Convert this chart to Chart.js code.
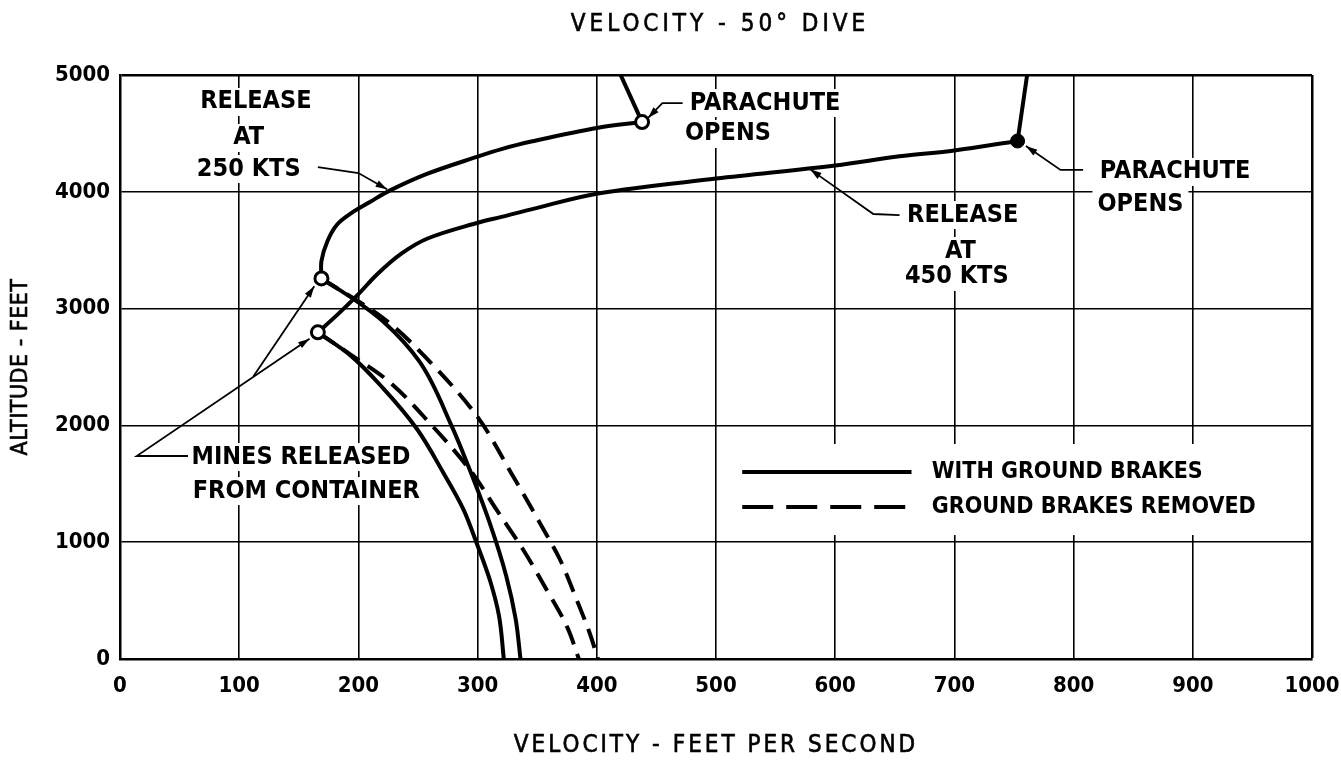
<!DOCTYPE html>
<html>
<head>
<meta charset="utf-8">
<script src="https://cdn.jsdelivr.net/npm/chart.js@4.4.1/dist/chart.umd.min.js"></script>
<style>
  html, body { margin: 0; padding: 0; background: #fff; }
  canvas { display: block; }
</style>
</head>
<body>
<canvas id="grafico" width="1341" height="768"></canvas>
<script>
// Datos (velocidad ft/s, altitud ft)
const ticksX = [0, 100, 200, 300, 400, 500, 600, 700, 800, 900, 1000];
const ticksY = [0, 1000, 2000, 3000, 4000, 5000];

// contenedor lanzado a 250 kts
const caida250 = [[420, 5000], [438, 4597]];
const frenado250 = [[438, 4597], [401, 4549], [345, 4430], [320, 4365], [300, 4301], [258, 4155], [227, 4014], [210, 3915], [194, 3817], [182, 3718], [174, 3577], [169, 3408], [169, 3258]];
// contenedor lanzado a 450 kts
const caida450 = [[761, 5000], [753, 4435]];
const frenado450 = [[753, 4435], [700, 4354], [654, 4304], [600, 4225], [500, 4113], [401, 3986], [345, 3850], [320, 3785], [300, 3735], [258, 3600], [236, 3470], [216, 3296], [199, 3113], [182, 2944], [166, 2797]];

// minas (desde 250 kts)
const minasA_con = [[169, 3258], [199, 3060], [221, 2888], [251, 2550], [278, 2000], [292, 1656], [310, 1169], [324, 711], [332, 338], [336, 0]];
const minasA_sin = [[169, 3258], [221, 2917], [260, 2544], [299, 2086], [330, 1560], [352, 1169], [369, 854], [383, 510], [394, 223], [401, 0]];
// minas (desde 450 kts)
const minasB_con = [[166, 2797], [193, 2602], [221, 2315], [249, 1971], [271, 1599], [288, 1284], [299, 997], [311, 653], [318, 367], [322, 0]];
const minasB_sin = [[166, 2797], [192, 2617], [224, 2389], [260, 2018], [295, 1600], [316, 1276], [338, 940], [358, 591], [375, 277], [385, 0]];

const puntosAbiertos = [[438, 4597], [169, 3258], [166, 2797]];
const puntoLleno = [[753, 4435]];

const leyenda = ["WITH GROUND BRAKES", "GROUND BRAKES REMOVED"];

const aPuntos = (arr) => arr.map(p => ({ x: p[0], y: p[1] }));

// textos de anotacion, en unidades de los ejes
const notas = [
  { t: "RELEASE", x: 114, y: 4769, a: "center" },
  { t: "AT", x: 108, y: 4461, a: "center" },
  { t: "250 KTS", x: 108, y: 4195, a: "center" },
  { t: "PARACHUTE", x: 478, y: 4760, a: "left" },
  { t: "OPENS", x: 474, y: 4495, a: "left" },
  { t: "RELEASE", x: 707, y: 3801, a: "center" },
  { t: "AT", x: 705, y: 3493, a: "center" },
  { t: "450 KTS", x: 702, y: 3271, a: "center" },
  { t: "PARACHUTE", x: 822, y: 4170, a: "left" },
  { t: "OPENS", x: 820, y: 3887, a: "left" },
  { t: "MINES RELEASED", x: 60, y: 1729, a: "left" },
  { t: "FROM CONTAINER", x: 61, y: 1438, a: "left" }
];
// lineas guia con flecha al final
const guias = [
  [[166, 4212], [200, 4161], [224, 4022]],
  [[472, 4760], [455, 4760], [443, 4632]],
  [[654, 3801], [632, 3810], [579, 4192]],
  [[808, 4187], [789, 4187], [760, 4392]],
  [[57, 1738], [14, 1738], [159, 2742]],
  [[112, 2420], [163, 3192]]
];

const FUENTE = '"DejaVu Sans Condensed", "DejaVu Sans", sans-serif';

const dibujos = {
  id: "dibujos",
  beforeDatasetsDraw(chart) {
    const c = chart.ctx;
    const sx = chart.scales.x, sy = chart.scales.y;
    c.save();
    c.font = "bold 25px " + FUENTE;
    c.textBaseline = "middle";
    notas.forEach(n => {
      const px = sx.getPixelForValue(n.x), py = sy.getPixelForValue(n.y);
      const w = c.measureText(n.t).width;
      const x0 = n.a === "center" ? px - w / 2 : px;
      c.fillStyle = "#fff";
      c.fillRect(x0 - 5, py - 14, w + 10, 28);
      c.fillStyle = "#000";
      c.textAlign = n.a;
      c.fillText(n.t, px, py);
    });

    // leyenda
    c.font = "bold 23px " + FUENTE;
    const lx0 = sx.getPixelForValue(522), lx1 = sx.getPixelForValue(664), tx = sx.getPixelForValue(681);
    const ly = [sy.getPixelForValue(1601), sy.getPixelForValue(1301)];
    const wMax = Math.max(...leyenda.map(t => c.measureText(t).width));
    c.fillStyle = "#fff";
    c.fillRect(lx0 - 14, ly[0] - 28, tx + wMax - lx0 + 30, ly[1] - ly[0] + 56);
    c.strokeStyle = "#000";
    c.lineWidth = 4;
    leyenda.forEach((t, i) => {
      c.setLineDash(i === 0 ? [] : [31, 13]);
      c.beginPath();
      c.moveTo(lx0, ly[i]);
      c.lineTo(lx1, ly[i]);
      c.stroke();
      c.fillStyle = "#000";
      c.textAlign = "left";
      c.fillText(t, tx, ly[i]);
    });
    c.restore();
  },
  afterDatasetsDraw(chart) {
    const c = chart.ctx;
    const sx = chart.scales.x, sy = chart.scales.y;
    c.save();
    c.strokeStyle = "#000";
    c.fillStyle = "#000";
    c.lineWidth = 1.8;
    guias.forEach(g => {
      const pts = g.map(p => [sx.getPixelForValue(p[0]), sy.getPixelForValue(p[1])]);
      c.beginPath();
      pts.forEach((p, i) => i ? c.lineTo(p[0], p[1]) : c.moveTo(p[0], p[1]));
      c.stroke();
      const a = pts[pts.length - 2], b = pts[pts.length - 1];
      const ang = Math.atan2(b[1] - a[1], b[0] - a[0]);
      c.beginPath();
      c.moveTo(b[0], b[1]);
      c.lineTo(b[0] - 12 * Math.cos(ang - 0.3), b[1] - 12 * Math.sin(ang - 0.3));
      c.lineTo(b[0] - 12 * Math.cos(ang + 0.3), b[1] - 12 * Math.sin(ang + 0.3));
      c.closePath();
      c.fill();
    });
    c.restore();
  },
  afterDraw(chart) {
    const c = chart.ctx;
    const area = chart.chartArea;
    const cx = (area.left + area.right) / 2;
    c.save();
    c.fillStyle = "#000";
    c.strokeStyle = "#000";
    c.lineWidth = 0.6;
    c.textAlign = "center";
    c.textBaseline = "middle";
    c.font = "24px " + FUENTE;
    c.letterSpacing = "4px";
    c.fillText("VELOCITY - 50\u00B0 DIVE", cx + 4, 25);
    c.strokeText("VELOCITY - 50\u00B0 DIVE", cx + 4, 25);
    c.letterSpacing = "3px";
    c.fillText("VELOCITY - FEET PER SECOND", cx, 746);
    c.strokeText("VELOCITY - FEET PER SECOND", cx, 746);
    c.font = "23px " + FUENTE;
    c.letterSpacing = "0.5px";
    c.translate(21, (area.top + area.bottom) / 2);
    c.rotate(-Math.PI / 2);
    c.fillText("ALTITUDE - FEET", 0, 0);
    c.strokeText("ALTITUDE - FEET", 0, 0);
    c.restore();
  }
};

const linea = (datos, discontinua, tension) => ({
  data: aPuntos(datos),
  borderColor: "#000",
  borderWidth: 4,
  borderDash: discontinua ? [20, 10] : [],
  pointRadius: 0,
  showLine: true,
  tension: tension,
  fill: false
});
// curvas de descenso: la altitud hace de eje indice para suavizar
const descenso = (datos, discontinua) =>
  Object.assign(linea(datos, discontinua, 0.4), { indexAxis: "y", cubicInterpolationMode: "monotone" });

const canvas1 = document.getElementById("grafico").getContext("2d");
let chart1 = new Chart(canvas1, {
  type: "line",
  data: {
    datasets: [
      {
        data: aPuntos(puntosAbiertos),
        pointRadius: 6.5,
        pointBorderWidth: 3,
        pointBorderColor: "#000",
        pointBackgroundColor: "#fff",
        showLine: false
      },
      {
        data: aPuntos(puntoLleno),
        pointRadius: 7,
        pointBorderWidth: 1,
        pointBorderColor: "#000",
        pointBackgroundColor: "#000",
        showLine: false
      },
      linea(caida250, false, 0),
      linea(frenado250, false, 0.35),
      linea(caida450, false, 0),
      linea(frenado450, false, 0.35),
      descenso(minasA_con, false),
      descenso(minasA_sin, true),
      descenso(minasB_con, false),
      descenso(minasB_sin, true)
    ]
  },
  options: {
    responsive: false,
    animation: false,
    layout: { padding: { top: 75, right: 29, bottom: 0, left: 0 } },
    plugins: {
      legend: { display: false },
      tooltip: { enabled: false },
      title: { display: false }
    },
    scales: {
      x: {
        type: "linear",
        min: 0,
        max: 1000,
        afterBuildTicks: (s) => { s.ticks = ticksX.map(v => ({ value: v })); },
        afterFit: (s) => { s.height = 109; s.paddingLeft = 0; s.paddingRight = 0; },
        grid: {
          color: "#000",
          lineWidth: (ctx) => (ctx.tick && ctx.tick.value === 1000 ? 2.5 : 1.6),
          drawTicks: false
        },
        border: { color: "#000", width: 2.5 },
        ticks: {
          color: "#000",
          padding: 14,
          maxRotation: 0,
          callback: (v) => String(v),
          font: { family: FUENTE, size: 22, weight: "bold" }
        }
      },
      y: {
        type: "linear",
        min: 0,
        max: 5000,
        afterBuildTicks: (s) => { s.ticks = ticksY.map(v => ({ value: v })); },
        afterFit: (s) => { s.width = 120; s.paddingTop = 0; s.paddingBottom = 0; },
        grid: {
          color: "#000",
          lineWidth: (ctx) => (ctx.tick && ctx.tick.value === 5000 ? 2.5 : 1.6),
          drawTicks: false
        },
        border: { color: "#000", width: 2.5 },
        ticks: {
          color: "#000",
          padding: 10,
          callback: (v) => String(v),
          font: { family: FUENTE, size: 22, weight: "bold" }
        }
      }
    }
  },
  plugins: [dibujos]
});
</script>
</body>
</html>
